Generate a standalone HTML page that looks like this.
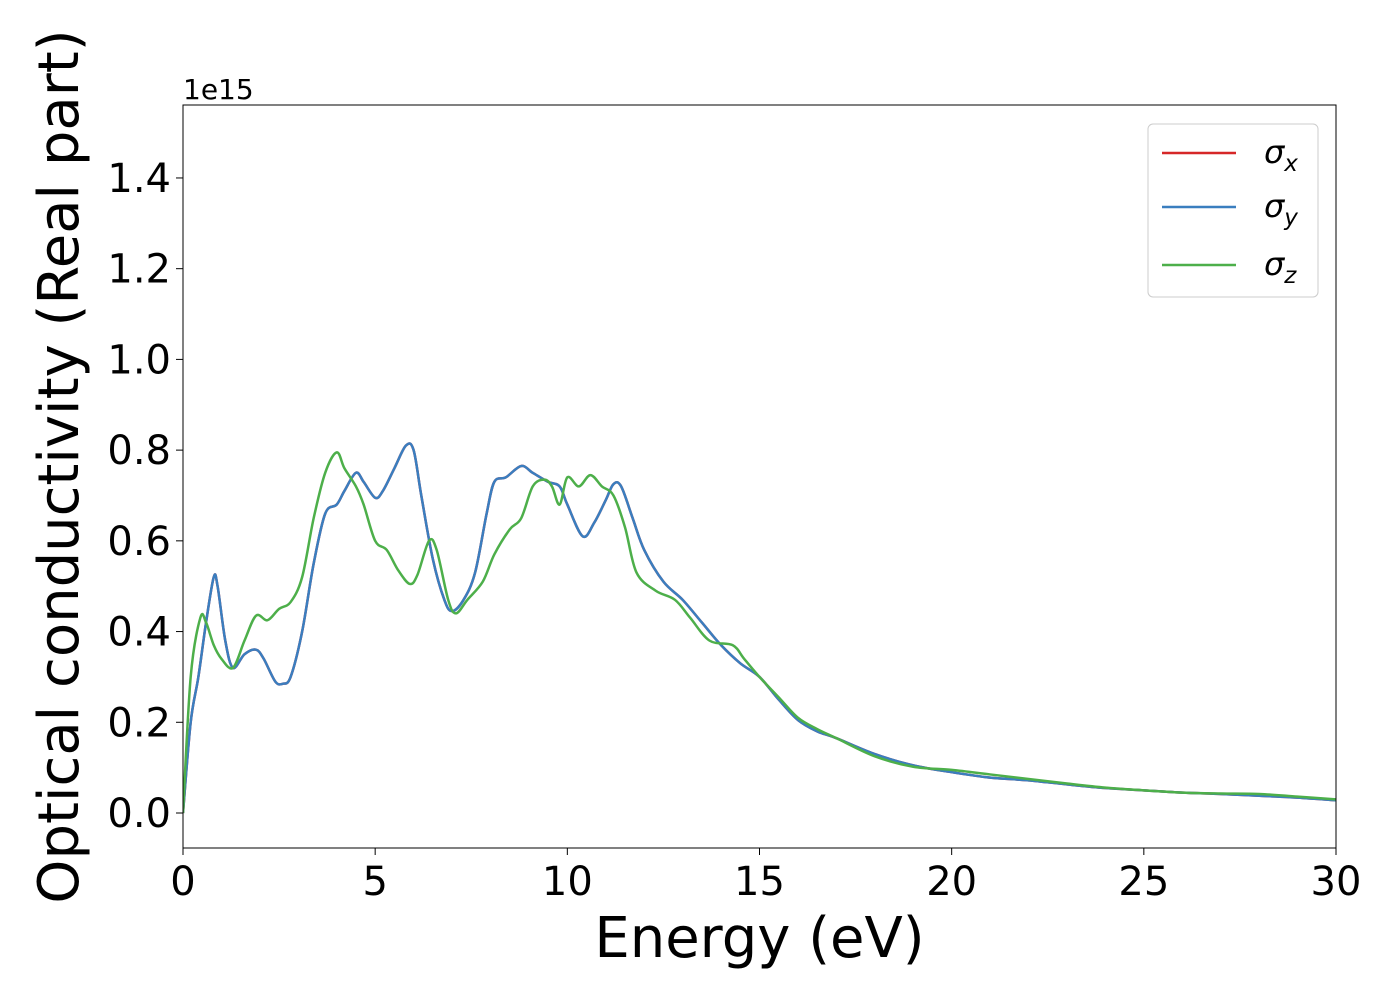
<!DOCTYPE html>
<html><head><meta charset="utf-8"><style>
html,body{margin:0;padding:0;background:#fff;}
svg{display:block;font-family:"DejaVu Sans","Liberation Sans",sans-serif;}
</style></head><body>
<svg id="chart" width="1400" height="1000" viewBox="0 0 1400 1000">
<g id="plot"></g>
</svg>
<script>
const xTicks=[0,5,10,15,20,25,30];
const yTicks=[0.0,0.2,0.4,0.6,0.8,1.0,1.2,1.4];
const yTickLabels=["0.0","0.2","0.4","0.6","0.8","1.0","1.2","1.4"];
const energyXY=[0,0.2,0.4,0.6,0.8,0.9,1.1,1.3,1.6,1.9,2.1,2.4,2.6,2.8,3.1,3.4,3.7,4.0,4.2,4.5,4.7,5.0,5.2,5.5,5.8,6.0,6.2,6.5,6.8,7.0,7.3,7.6,7.9,8.1,8.4,8.8,9.1,9.5,9.8,10.0,10.4,10.7,11.0,11.2,11.4,11.7,12.0,12.5,13.0,13.5,14.0,14.5,15.0,15.5,16,16.5,17,18,19,20,21,22,23,24,25,26,27,28,29,30];
const sigmaX=[0,0.2,0.3,0.42,0.52,0.5,0.38,0.32,0.35,0.36,0.34,0.29,0.285,0.3,0.4,0.55,0.66,0.68,0.71,0.75,0.73,0.695,0.71,0.76,0.81,0.8,0.7,0.56,0.47,0.445,0.47,0.53,0.66,0.73,0.74,0.765,0.75,0.73,0.72,0.68,0.61,0.64,0.69,0.725,0.72,0.65,0.58,0.51,0.47,0.42,0.37,0.33,0.3,0.25,0.205,0.18,0.165,0.13,0.105,0.09,0.078,0.072,0.063,0.055,0.05,0.045,0.042,0.038,0.034,0.028];
const sigmaY=sigmaX.slice();
const energyZ=[0,0.2,0.45,0.6,0.8,1.0,1.3,1.6,1.9,2.2,2.5,2.8,3.1,3.4,3.7,4.0,4.2,4.5,4.7,5.0,5.3,5.6,5.9,6.1,6.4,6.6,6.9,7.1,7.4,7.8,8.1,8.5,8.8,9.1,9.4,9.6,9.8,10.0,10.3,10.6,10.9,11.2,11.5,11.8,12.3,12.8,13.2,13.7,14.3,14.6,15,15.5,16,16.5,17,18,19,20,21,22,23,24,25,26,27,28,29,30];
const sigmaZ=[0,0.3,0.43,0.42,0.37,0.34,0.32,0.38,0.435,0.425,0.45,0.465,0.52,0.65,0.75,0.795,0.76,0.72,0.68,0.6,0.58,0.535,0.505,0.525,0.6,0.58,0.47,0.44,0.47,0.51,0.57,0.625,0.65,0.72,0.735,0.72,0.68,0.74,0.72,0.745,0.72,0.7,0.63,0.53,0.49,0.47,0.43,0.38,0.37,0.34,0.3,0.255,0.21,0.185,0.165,0.125,0.102,0.095,0.085,0.075,0.065,0.056,0.05,0.045,0.043,0.042,0.036,0.03];

const L=183,R=1336,T=105,B=848;
const xs=v=>L+(v-0)/30*(R-L);
const y0=813,yPer=453.6;
const ys=v=>y0-v*yPer;
const NS="http://www.w3.org/2000/svg";
const g=document.getElementById('plot');
function mk(tag,attrs,parent){const e=document.createElementNS(NS,tag);for(const k in attrs)e.setAttribute(k,attrs[k]);(parent||g).appendChild(e);return e;}
function pathFor(xv,yv){
  const p=xv.map((x,i)=>[xs(x),ys(yv[i])]);
  let d="M"+p[0][0]+","+p[0][1];
  for(let i=0;i<p.length-1;i++){
    const p0=p[Math.max(0,i-1)],p1=p[i],p2=p[i+1],p3=p[Math.min(p.length-1,i+2)];
    const c1x=p1[0]+(p2[0]-p0[0])/6,c1y=p1[1]+(p2[1]-p0[1])/6;
    const c2x=p2[0]-(p3[0]-p1[0])/6,c2y=p2[1]-(p3[1]-p1[1])/6;
    d+=` C${c1x},${c1y} ${c2x},${c2y} ${p2[0]},${p2[1]}`;
  }
  return d;
}
const clip=mk('clipPath',{id:'clp'});mk('rect',{x:L,y:T,width:R-L,height:B-T},clip);
const series=[["sigma-x-line",energyXY,sigmaX,"#d62728"],["sigma-y-line",energyXY,sigmaY,"#3a7ebf"],["sigma-z-line",energyZ,sigmaZ,"#4daf4a"]];
series.forEach(s=>{
  const e=mk('path',{d:pathFor(s[1],s[2]),fill:'none',stroke:s[3],'stroke-width':2.5,'clip-path':'url(#clp)'});
  
  
});
const frame=mk('rect',{x:L,y:T,width:R-L,height:B-T,fill:'none',stroke:'#000','stroke-width':1});


xTicks.forEach(v=>{
  const x=xs(v);
  mk('line',{x1:x,x2:x,y1:B,y2:B+7,stroke:'#000','stroke-width':1});
  const t=mk('text',{x:x,y:B+47,'font-size':40,'text-anchor':'middle'});t.textContent=v;
  
  
});
yTicks.forEach((v,i)=>{
  const y=ys(v);
  mk('line',{x1:L-7,x2:L,y1:y,y2:y,stroke:'#000','stroke-width':1});
  const t=mk('text',{x:L-12,y:y+14,'font-size':40,'text-anchor':'end'});t.textContent=yTickLabels[i];
  
  
});
const off=mk('text',{x:L,y:99,'font-size':28});off.textContent="1e15";


const xt=mk('text',{x:(L+R)/2,y:957,'font-size':56,'text-anchor':'middle'});xt.textContent="Energy (eV)";


const yt=mk('text',{x:0,y:0,'font-size':56,'text-anchor':'middle',transform:`translate(78,${(T+B)/2-10}) rotate(-90)`});yt.textContent="Optical conductivity (Real part)";


const lg=mk('g',{});


mk('rect',{x:1148,y:124,width:170,height:173,rx:5,fill:'#fff','fill-opacity':0.8,stroke:'#ccc','stroke-width':1},lg);
[["σ","x","#d62728",153],["σ","y","#3a7ebf",207],["σ","z","#4daf4a",265]].forEach(e=>{
  const it=mk('g',{},lg);
  
  
  mk('line',{x1:1162,x2:1236,y1:e[3],y2:e[3],stroke:e[2],'stroke-width':2.5},it);
  const t=mk('text',{x:1264,y:e[3]+10,'font-size':32,'font-style':'italic'},it);
  t.textContent=e[0];
  const sub=mk('tspan',{'font-size':23,dy:8},t);sub.textContent=e[1];
});
</script>
</body></html>
